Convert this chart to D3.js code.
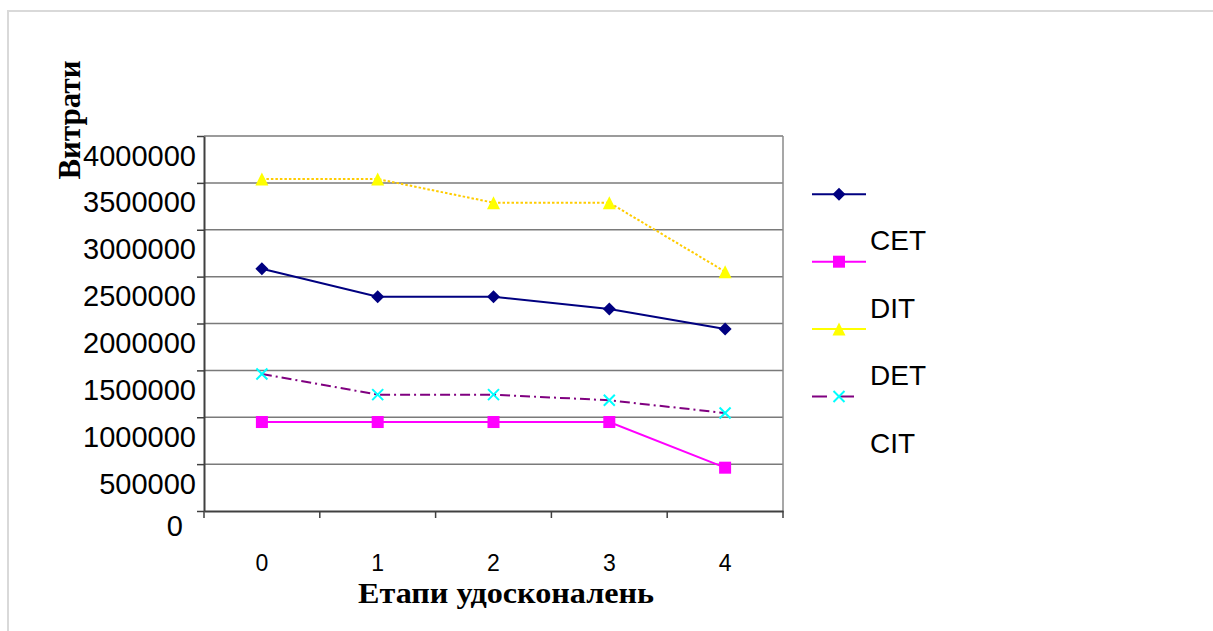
<!DOCTYPE html>
<html>
<head>
<meta charset="utf-8">
<script src="https://cdn.jsdelivr.net/npm/d3@7"></script>
<style>
html,body{margin:0;padding:0;background:#fff;}
svg{display:block;}
</style>
</head>
<body>
<svg id="chart" width="1213" height="631"></svg>
<script>
const categories = ["0","1","2","3","4"];
const yTicks = [0,500000,1000000,1500000,2000000,2500000,3000000,3500000,4000000];
const seriesNames = ["CET","DIT","DET","CIT"];
const navyValues    = [2585000, 2286000, 2286000, 2155000, 1941000];
const magentaValues = [949000, 949000, 949000, 949000, 462000];
const yellowValues  = [3541000, 3541000, 3289000, 3289000, 2553000];
const purpleValues  = [1461000, 1241000, 1241000, 1181000, 1045000];
const xTitle = "Етапи удосконалень";
const yTitle = "Витрати";

const svg = d3.select("#chart");
const plot = {left:204, right:783, top:136, bottom:511};

// outer frame
svg.append("path").attr("d", `M8,631 V11 H1213`).attr("fill","none")
  .attr("stroke","#d9d9d9").attr("stroke-width",2);

const x = d3.scaleBand().domain(categories).range([plot.left, plot.right]);
const y = d3.scaleLinear().domain([0,4000000]).range([plot.bottom, plot.top]);

// gridlines
svg.append("g").selectAll("line").data(yTicks.filter(d=>d>0)).join("line")
  .attr("x1", plot.left).attr("x2", plot.right)
  .attr("y1", d=>y(d)).attr("y2", d=>y(d))
  .attr("stroke","#7a7a7a").attr("stroke-width",1.5);
// right border
svg.append("line").attr("x1",plot.right).attr("x2",plot.right)
  .attr("y1",plot.top).attr("y2",plot.bottom)
  .attr("stroke","#8a8a8a").attr("stroke-width",1.5);

// y axis
const yAxis = svg.append("g").attr("transform",`translate(${plot.left},0)`)
  .call(d3.axisLeft(y).tickValues(yTicks).tickSize(7).tickSizeOuter(0).tickFormat(d3.format("d")));
yAxis.select(".domain").attr("stroke","#404040").attr("stroke-width",2);
yAxis.selectAll(".tick line").attr("stroke","#404040").attr("stroke-width",1.5);
yAxis.selectAll(".tick text")
  .attr("x", d => d===0 ? -21 : -8)
  .attr("dy", d => d===0 ? "0.85em" : "1.0em")
  .attr("font-family","'Liberation Sans', Arial, sans-serif")
  .attr("font-size", 29).attr("fill","#000");

// x axis
const xAxis = svg.append("g").attr("transform",`translate(0,${plot.bottom})`)
  .call(d3.axisBottom(x).tickSize(0).tickSizeOuter(0));
xAxis.select(".domain").attr("stroke","#404040").attr("stroke-width",2);
xAxis.selectAll(".tick text").attr("y", 52).attr("dy","0.35em")
  .attr("font-family","'Liberation Sans', Arial, sans-serif")
  .attr("font-size", 23).attr("fill","#000");
// x ticks at band boundaries
const bounds = categories.map(c=>x(c)).concat([plot.right]);
svg.append("g").selectAll("line").data(bounds).join("line")
  .attr("x1",d=>d).attr("x2",d=>d).attr("y1",plot.bottom).attr("y2",plot.bottom+7)
  .attr("stroke","#404040").attr("stroke-width",1.5);

// titles
svg.append("text").attr("x",506).attr("y",603).attr("text-anchor","middle")
  .attr("font-family","'Liberation Serif', 'Times New Roman', serif")
  .attr("font-weight","bold").attr("font-size",30).attr("textLength",296)
  .attr("lengthAdjust","spacingAndGlyphs").text(xTitle);
svg.append("text").attr("transform","translate(80,120) rotate(-90)").attr("text-anchor","middle")
  .attr("font-family","'Liberation Serif', 'Times New Roman', serif")
  .attr("font-weight","bold").attr("font-size",31).text(yTitle);

const cx = c => x(c) + x.bandwidth()/2;

function drawMarker(g, type, px, py){
  if(type==="diamond"){
    g.append("path").attr("d",`M${px},${py-6.5}L${px+6.5},${py}L${px},${py+6.5}L${px-6.5},${py}Z`).attr("fill","#000080");
  } else if(type==="square"){
    g.append("rect").attr("x",px-6).attr("y",py-6).attr("width",12).attr("height",12).attr("fill","#ff00ff");
  } else if(type==="triangle"){
    g.append("path").attr("d",`M${px},${py-6.5}L${px+6.5},${py+6.5}L${px-6.5},${py+6.5}Z`).attr("fill","#ffff00");
  } else if(type==="x"){
    g.append("path").attr("d",`M${px-5.5},${py-5.5}L${px+5.5},${py+5.5}M${px+5.5},${py-5.5}L${px-5.5},${py+5.5}`)
      .attr("stroke","#00ffff").attr("stroke-width",2).attr("fill","none");
  }
}

const series = [
  {vals: navyValues, color:"#000080", dash:null, marker:"diamond", legendColor:"#000080"},
  {vals: magentaValues, color:"#ff00ff", dash:null, marker:"square", legendColor:"#ff00ff"},
  {vals: yellowValues, color:"#ffcc00", dash:"2.5,2", marker:"triangle", legendColor:"#ffff00"},
  {vals: purpleValues, color:"#800080", dash:"10,4,2,4", marker:"x", legendColor:"#800080"}
];

const line = d3.line().x((d,i)=>cx(categories[i])).y(d=>y(d));
series.forEach(s=>{
  const g = svg.append("g");
  g.append("path").datum(s.vals).attr("d", line).attr("fill","none")
    .attr("stroke", s.color).attr("stroke-width", 2)
    .attr("stroke-dasharray", s.dash);
  s.vals.forEach((v,i)=>drawMarker(g, s.marker, cx(categories[i]), y(v)));
});

// legend
const legY0 = 194.3, legStep = 67.4;
series.forEach((s,i)=>{
  const g = svg.append("g");
  const ly = legY0 + i*legStep;
  g.append("line").attr("x1",812).attr("x2",866).attr("y1",ly).attr("y2",ly)
    .attr("stroke", s.legendColor).attr("stroke-width",2)
    .attr("stroke-dasharray", s.marker==="x" ? "15,12" : null);
  drawMarker(g, s.marker, 839, ly);
  g.append("text").attr("x",870).attr("y", ly+56)
    .attr("font-family","'Liberation Sans', Arial, sans-serif")
    .attr("font-size",28).attr("fill","#000").text(seriesNames[i]);
});
</script>
</body>
</html>
